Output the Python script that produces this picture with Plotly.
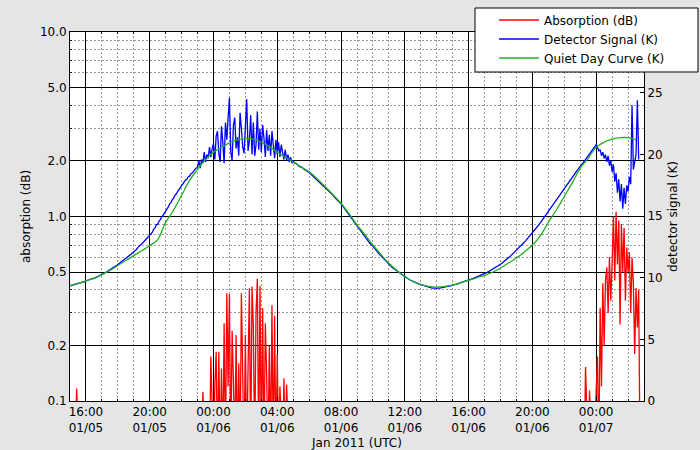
import pandas as pd
import plotly.graph_objects as go

# ---------------- data ----------------
detector_start = "2011-01-05 15:00"   # 5-minute samples
detector_k = [
    # 01/05 15h..23h
    9.35, 9.38, 9.37, 9.43, 9.44, 9.50, 9.49, 9.55, 9.60, 9.58, 9.66, 9.69,
    9.74, 9.79, 9.80, 9.86, 9.88, 9.95, 9.94, 10.02, 10.06, 10.10, 10.17, 10.22,
    10.28, 10.33, 10.40, 10.44, 10.52, 10.57, 10.63, 10.70, 10.78, 10.85, 10.93, 11.00,
    11.08, 11.17, 11.22, 11.33, 11.38, 11.50, 11.55, 11.66, 11.72, 11.85, 11.92, 12.02,
    12.10, 12.25, 12.30, 12.45, 12.52, 12.66, 12.74, 12.86, 12.95, 13.10, 13.15, 13.30,
    13.42, 13.60, 13.70, 13.95, 14.05, 14.30, 14.35, 14.60, 14.72, 14.95, 15.05, 15.25,
    15.40, 15.65, 15.75, 16.00, 16.10, 16.35, 16.45, 16.70, 16.80, 17.00, 17.15, 17.35,
    17.50, 17.68, 17.75, 17.95, 18.00, 18.20, 18.25, 18.45, 18.50, 18.70, 18.80, 18.90,
    19.00, 19.50, 18.90, 19.60, 19.30, 20.20, 19.40, 20.00, 19.70, 20.60, 19.80, 20.50,
    # 01/06 00h..23h
    20.90, 19.60, 21.50, 21.90, 20.10, 19.40, 22.30, 21.00, 19.30, 22.60, 21.20, 23.00,
    24.60, 20.20, 19.50, 22.40, 23.00, 20.50, 21.40, 19.90, 23.40, 22.10, 20.60, 20.10,
    22.80, 24.50, 20.30, 21.10, 23.20, 20.00, 22.60, 19.90, 20.80, 23.50, 20.40, 22.10,
    20.20, 22.40, 21.30, 19.80, 22.00, 20.30, 21.60, 19.90, 21.90, 20.60, 19.70, 21.20,
    20.00, 21.00, 19.80, 20.80, 20.10, 19.60, 20.40, 19.50, 20.00, 19.40, 19.80, 19.30,
    19.50, 19.30, 19.30, 19.20, 19.10, 19.00, 19.00, 18.90, 18.85, 18.75, 18.70, 18.65,
    18.55, 18.45, 18.35, 18.25, 18.15, 18.05, 17.95, 17.85, 17.75, 17.60, 17.50, 17.45,
    17.35, 17.25, 17.15, 17.00, 16.90, 16.80, 16.70, 16.55, 16.45, 16.35, 16.20, 16.10,
    16.00, 15.85, 15.70, 15.55, 15.40, 15.25, 15.10, 14.95, 14.80, 14.65, 14.50, 14.40,
    14.20, 14.05, 13.90, 13.75, 13.60, 13.45, 13.30, 13.15, 13.00, 12.90, 12.75, 12.70,
    12.55, 12.42, 12.30, 12.15, 12.03, 11.90, 11.78, 11.66, 11.55, 11.45, 11.33, 11.25,
    11.10, 11.00, 10.90, 10.80, 10.72, 10.63, 10.55, 10.47, 10.38, 10.30, 10.22, 10.15,
    10.06, 10.00, 9.94, 9.88, 9.82, 9.76, 9.71, 9.66, 9.61, 9.56, 9.52, 9.48,
    9.44, 9.41, 9.38, 9.35, 9.32, 9.29, 9.25, 9.20, 9.18, 9.16, 9.15, 9.16,
    9.15, 9.17, 9.16, 9.18, 9.20, 9.22, 9.21, 9.25, 9.27, 9.30, 9.32, 9.36,
    9.40, 9.42, 9.45, 9.48, 9.52, 9.55, 9.60, 9.63, 9.67, 9.71, 9.75, 9.78,
    9.82, 9.86, 9.90, 9.94, 9.98, 10.02, 10.06, 10.10, 10.14, 10.19, 10.24, 10.28,
    10.33, 10.38, 10.44, 10.50, 10.56, 10.62, 10.69, 10.76, 10.83, 10.90, 10.97, 11.04,
    11.10, 11.18, 11.26, 11.35, 11.44, 11.53, 11.62, 11.72, 11.82, 11.92, 12.02, 12.12,
    12.22, 12.33, 12.44, 12.55, 12.66, 12.78, 12.90, 13.02, 13.14, 13.26, 13.38, 13.50,
    13.62, 13.76, 13.90, 14.04, 14.18, 14.32, 14.47, 14.62, 14.77, 14.92, 15.07, 15.20,
    15.35, 15.50, 15.65, 15.82, 15.98, 16.14, 16.30, 16.46, 16.62, 16.78, 16.93, 17.07,
    17.22, 17.38, 17.52, 17.70, 17.85, 18.00, 18.15, 18.30, 18.45, 18.62, 18.78, 18.92,
    19.05, 19.20, 19.30, 19.45, 19.55, 19.70, 19.80, 19.95, 20.10, 20.30, 20.50, 20.65,
    # 01/07 00h..02h40
    20.80, 20.60, 20.30, 20.40, 19.90, 20.20, 19.70, 20.00, 19.40, 19.90, 19.10, 19.50,
    18.60, 19.20, 17.80, 18.50, 16.90, 18.00, 16.20, 17.60, 15.60, 17.30, 16.00, 17.50,
    17.00, 18.20, 17.60, 24.00, 18.80, 19.40, 20.00, 24.40, 19.60,
]

quiet_start = "2011-01-05 15:00"   # 30-minute samples
quiet_day_k = [
    9.35, 9.55, 9.75, 9.98, 10.25, 10.6, 11.0, 11.4, 11.8, 12.2, 12.6, 13.1,
    14.5, 15.5, 16.7, 17.9, 18.8, 19.6,
    20.2, 20.6, 20.95, 21.2, 21.3, 21.25, 21.0, 20.65, 20.2, 19.8, 19.4, 19.0,
    18.6, 18.05, 17.4, 16.75, 16.05, 15.2, 14.3, 13.5, 12.66, 11.9, 11.18, 10.6,
    10.09, 9.7, 9.45, 9.3, 9.25, 9.3, 9.4, 9.6, 9.8, 10.0, 10.2, 10.45,
    10.8, 11.2, 11.6, 12.1, 12.66, 13.4, 14.5, 15.5, 16.6, 17.7, 18.9, 19.7,
    20.6, 21.0, 21.25, 21.37, 21.37, 21.2,
]

# absorption (dB), 5-minute samples, only around the events (below 0.1 dB elsewhere)
absorption_event0_start = "2011-01-05 15:15"
absorption_event0 = [0.05, 0.05, 0.117, 0.05, 0.05]

absorption_event1_start = "2011-01-05 23:00"
absorption_event1 = [
    0.05, 0.05, 0.05, 0.05, 0.112, 0.05, 0.05, 0.05, 0.05, 0.05, 0.174, 0.05,
    0.05, 0.12, 0.185, 0.05, 0.185, 0.05, 0.15, 0.05, 0.264, 0.05, 0.384, 0.12,
    0.38, 0.05, 0.24, 0.13, 0.05, 0.228, 0.05, 0.16, 0.05, 0.384, 0.2, 0.05,
    0.228, 0.05, 0.15, 0.408, 0.05, 0.417, 0.25, 0.05, 0.3, 0.46, 0.05, 0.42,
    0.05, 0.318, 0.05, 0.264, 0.14, 0.05, 0.2, 0.05, 0.33, 0.05, 0.29, 0.05,
    0.18, 0.05, 0.12, 0.05, 0.05, 0.133, 0.05, 0.123, 0.05, 0.05, 0.05, 0.05,
]

absorption_event2_start = "2011-01-06 23:00"
absorption_event2 = [
    0.05, 0.05, 0.05, 0.05, 0.153, 0.05, 0.05, 0.114, 0.05, 0.05, 0.05, 0.05,
    0.115, 0.174, 0.05, 0.32, 0.12, 0.434, 0.2, 0.45, 0.53, 0.3, 0.604, 0.35,
    0.56, 1.0, 0.45, 1.06, 0.55, 0.95, 0.26, 0.91, 0.5, 0.87, 0.35, 0.68,
    0.5, 0.64, 0.3, 0.6, 0.43, 0.18, 0.41, 0.25, 0.4, 0.05,
]

x_tick_times = ["2011-01-05 16:00", "2011-01-05 20:00", "2011-01-06 00:00",
                "2011-01-06 04:00", "2011-01-06 08:00", "2011-01-06 12:00",
                "2011-01-06 16:00", "2011-01-06 20:00", "2011-01-07 00:00"]
x_tick_labels = ["16:00<br>01/05", "20:00<br>01/05", "00:00<br>01/06",
                 "04:00<br>01/06", "08:00<br>01/06", "12:00<br>01/06",
                 "16:00<br>01/06", "20:00<br>01/06", "00:00<br>01/07"]
db_ticks = [0.1, 0.2, 0.5, 1, 2, 5, 10]
db_tick_labels = ["0.1", "0.2", "0.5", "1.0", "2.0", "5.0", "10.0"]
db_minor_ticks = [0.3, 0.4, 0.6, 0.7, 0.8, 0.9, 3, 4, 6, 7, 8, 9]
k_ticks = [0, 5, 10, 15, 20, 25]

# ---------------- figure ----------------
det_x = pd.date_range(detector_start, periods=len(detector_k), freq="5min")
qdc_x = pd.date_range(quiet_start, periods=len(quiet_day_k), freq="30min")
abs_x, abs_y = [], []
for start, vals in [(absorption_event0_start, absorption_event0),
                    (absorption_event1_start, absorption_event1),
                    (absorption_event2_start, absorption_event2)]:
    abs_x += list(pd.date_range(start, periods=len(vals), freq="5min"))
    abs_y += vals

LW = 1.3
fig = go.Figure()
fig.add_trace(go.Scatter(x=abs_x, y=abs_y, yaxis="y2", mode="lines",
                         line=dict(color="#ff0000", width=LW),
                         name="Absorption (dB)", legendrank=1))
fig.add_trace(go.Scatter(x=det_x, y=detector_k, yaxis="y", mode="lines",
                         line=dict(color="#0000ff", width=LW),
                         name="Detector Signal (K)", legendrank=2))
fig.add_trace(go.Scatter(x=qdc_x, y=quiet_day_k, yaxis="y", mode="lines",
                         line=dict(color="#22b022", width=LW, shape="spline"),
                         name="Quiet Day Curve (K)", legendrank=3))

font = "DejaVu Sans"
fig.update_layout(
    width=700, height=450,
    paper_bgcolor="#e5e5e5", plot_bgcolor="white",
    margin=dict(l=70, r=56, t=32, b=49, autoexpand=False),
    font=dict(family=font, size=12, color="black"),
    showlegend=True,
    legend=dict(x=0.7387, y=1.0718, xanchor="left", yanchor="top",
                bgcolor="rgba(0,0,0,0)", borderwidth=0,
                font=dict(family=font, size=12), itemwidth=40,
                tracegroupgap=0),
    shapes=[dict(type="rect", xref="paper", yref="paper",
                 x0=0.7056, x1=1.0941, y0=0.8916, y1=1.065,
                 fillcolor="white", line=dict(color="black", width=1),
                 layer="above")],
    xaxis=dict(type="date", range=["2011-01-05 15:00", "2011-01-07 03:00"],
               tickmode="array", tickvals=x_tick_times, ticktext=x_tick_labels,
               showgrid=True, gridcolor="black", gridwidth=1,
               showline=True, linecolor="black", linewidth=1, mirror="ticks",
               ticks="inside", ticklen=4, tickcolor="black", zeroline=False,
               minor=dict(dtick=3600000, showgrid=True, griddash="2px,2px",
                          gridcolor="#9a9a9a", gridwidth=1, ticks="inside",
                          ticklen=2, tickcolor="black"),
               title=dict(text="Jan 2011 (UTC)", standoff=4,
                          font=dict(family=font, size=12))),
    yaxis=dict(range=[0, 29.95], side="right", tickmode="array",
               tickvals=k_ticks, showgrid=False, zeroline=False,
               showline=True, linecolor="black", linewidth=1,
               ticks="inside", ticklen=4, tickcolor="black",
               title=dict(text="detector signal (K)", standoff=6,
                          font=dict(family=font, size=12))),
    yaxis2=dict(type="log", range=[-1, 1], side="left", overlaying="y",
                tickmode="array", tickvals=db_ticks, ticktext=db_tick_labels,
                showgrid=True, gridcolor="black", gridwidth=1, zeroline=False,
                showline=True, linecolor="black", linewidth=1,
                ticks="inside", ticklen=4, tickcolor="black",
                minor=dict(tickmode="array", tickvals=db_minor_ticks,
                           showgrid=True, griddash="2px,2px",
                           gridcolor="#9a9a9a", gridwidth=1,
                           ticks="inside", ticklen=2, tickcolor="black"),
                title=dict(text="absorption (dB)", standoff=6,
                           font=dict(family=font, size=12))),
)

fig.write_html(
    "out.html",
    config={"displayModeBar": False},
    post_script="document.body.style.margin='0';"
                "document.body.style.background='#e5e5e5';",
)
